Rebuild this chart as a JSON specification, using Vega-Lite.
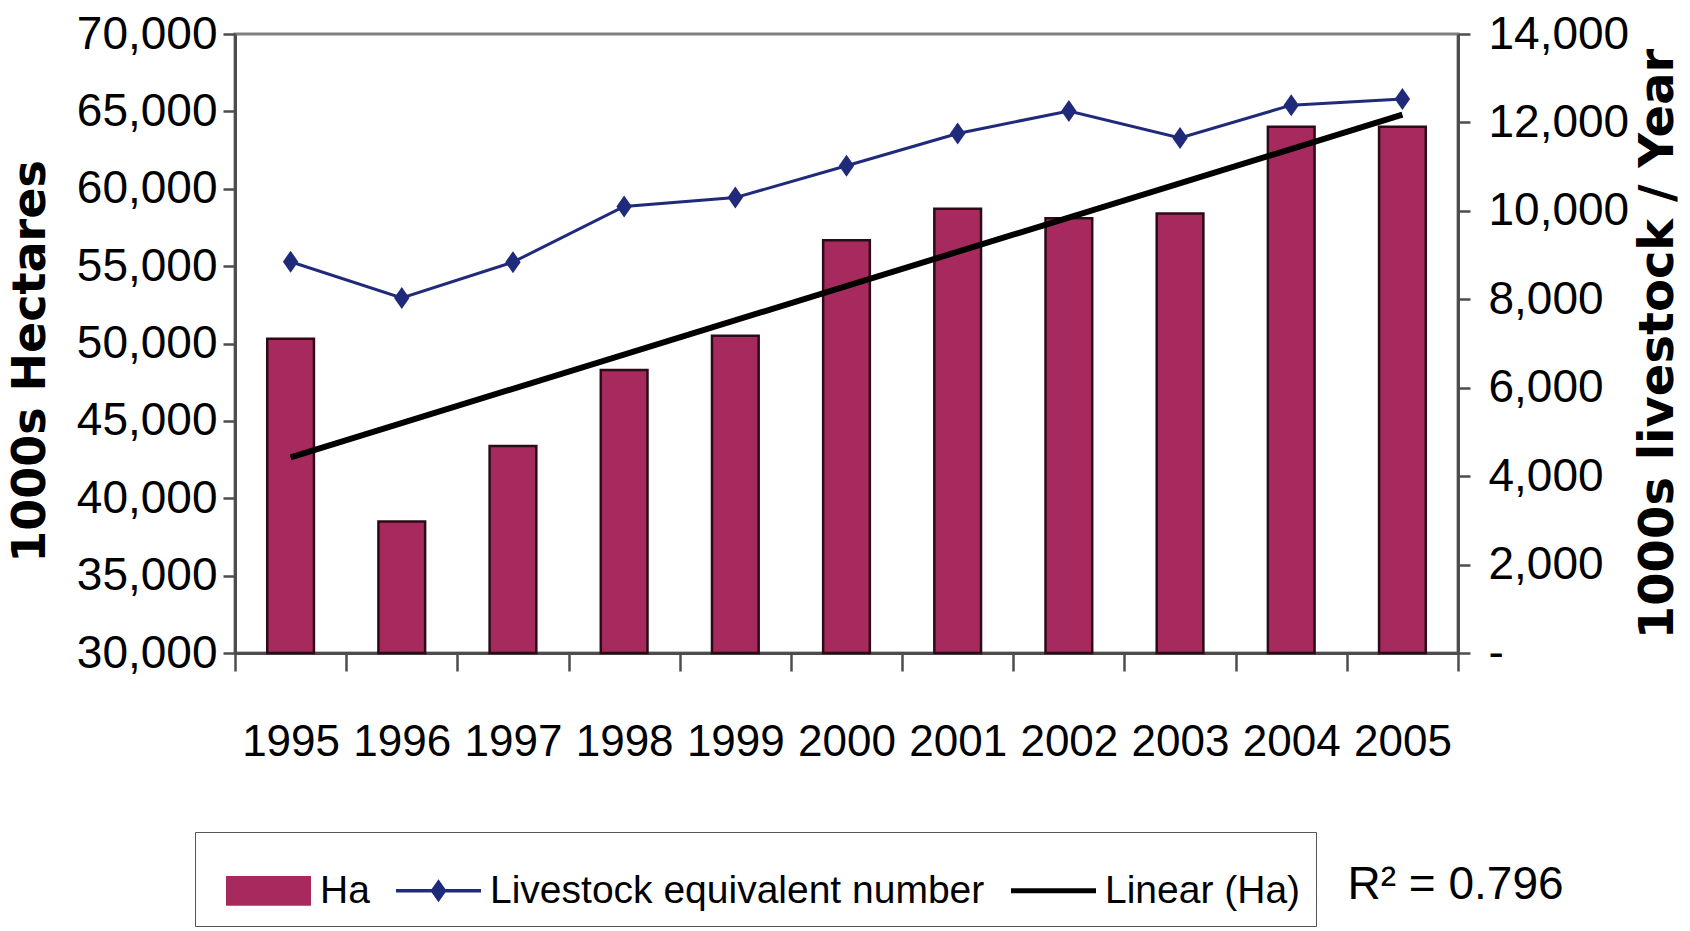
{
  "$schema": "https://vega.github.io/schema/vega-lite/v6.json",
  "width": 1223,
  "height": 619,
  "autosize": {"type": "none"},
  "padding": {"left": 235, "top": 34, "right": 232, "bottom": 278},
  "background": "white",
  "config": {
    "view": {"stroke": "#808080", "strokeWidth": 3},
    "axis": {"labelColor": "#000000", "titleColor": "#000000", "grid": false, "domainColor": "#4d4d4d", "domainWidth": 3, "tickColor": "#4d4d4d", "tickWidth": 2.5}
  },
  "data": {
    "values": [
      {"year": 1995, "Ha": 50300, "livestock": 8850},
      {"year": 1996, "Ha": 38500, "livestock": 8030},
      {"year": 1997, "Ha": 43370, "livestock": 8840},
      {"year": 1998, "Ha": 48290, "livestock": 10100},
      {"year": 1999, "Ha": 50500, "livestock": 10300},
      {"year": 2000, "Ha": 56680, "livestock": 11020},
      {"year": 2001, "Ha": 58700, "livestock": 11750},
      {"year": 2002, "Ha": 58100, "livestock": 12260},
      {"year": 2003, "Ha": 58400, "livestock": 11650},
      {"year": 2004, "Ha": 64010, "livestock": 12390},
      {"year": 2005, "Ha": 64010, "livestock": 12530}
    ]
  },
  "layer": [
    {
      "layer": [
        {
          "mark": {"type": "bar", "fill": "#a62a5e", "stroke": "#2b0b16", "strokeWidth": 2.5, "width": {"band": 0.42}},
          "encoding": {
            "x": {
              "field": "year", "type": "ordinal",
              "scale": {"paddingInner": 0, "paddingOuter": 0},
              "axis": {
                "labelAngle": 0, "labelFont": "Liberation Sans", "labelFontSize": 44, "labelPadding": 49,
                "tickBand": "extent", "tickSize": 18,
                "title": "R² = 0.796", "titleFont": "Liberation Sans", "titleFontSize": 46, "titleFontWeight": "normal",
                "titleX": 1112, "titleY": 231, "titleAlign": "left", "titleBaseline": "middle", "titleAnchor": null
              }
            },
            "y": {
              "field": "Ha", "type": "quantitative",
              "scale": {"domain": [30000, 70000], "nice": false, "zero": false},
              "axis": {
                "title": "1000s Hectares", "titleFont": "DejaVu Sans", "titleFontWeight": "bold", "titleFontSize": 46, "titlePadding": 22,
                "titleY": 327,
                "values": [30000, 35000, 40000, 45000, 50000, 55000, 60000, 65000, 70000],
                "labelExpr": "format(datum.value, ',')",
                "labelFont": "Liberation Sans", "labelFontSize": 46, "labelPadding": 6, "tickSize": 12
              }
            },
            "y2": {"datum": 30000}
          }
        },
        {
          "transform": [{"regression": "Ha", "on": "year"}],
          "mark": {"type": "line", "stroke": "#000000", "strokeWidth": 6},
          "encoding": {
            "x": {
              "field": "year", "type": "ordinal",
              "scale": {"paddingInner": 0, "paddingOuter": 0},
              "axis": {
                "labelAngle": 0, "labelFont": "Liberation Sans", "labelFontSize": 44, "labelPadding": 49,
                "tickBand": "extent", "tickSize": 18,
                "title": "R² = 0.796", "titleFont": "Liberation Sans", "titleFontSize": 46, "titleFontWeight": "normal",
                "titleX": 1112, "titleY": 231, "titleAlign": "left", "titleBaseline": "middle", "titleAnchor": null
              }
            },
            "y": {
              "field": "Ha", "type": "quantitative",
              "scale": {"domain": [30000, 70000], "nice": false, "zero": false},
              "axis": {
                "title": "1000s Hectares", "titleFont": "DejaVu Sans", "titleFontWeight": "bold", "titleFontSize": 46, "titlePadding": 22,
                "titleY": 327,
                "values": [30000, 35000, 40000, 45000, 50000, 55000, 60000, 65000, 70000],
                "labelExpr": "format(datum.value, ',')",
                "labelFont": "Liberation Sans", "labelFontSize": 46, "labelPadding": 6, "tickSize": 12
              }
            }
          }
        }
      ]
    },
    {
      "mark": {
        "type": "line", "stroke": "#1f2a7a", "strokeWidth": 3,
        "point": {"shape": "M0,-1L0.7,0L0,1L-0.7,0Z", "filled": true, "fill": "#1f2a7a", "size": 484, "opacity": 1}
      },
      "encoding": {
        "x": {
          "field": "year", "type": "ordinal",
          "scale": {"paddingInner": 0, "paddingOuter": 0},
          "axis": {
            "labelAngle": 0, "labelFont": "Liberation Sans", "labelFontSize": 44, "labelPadding": 49,
            "tickBand": "extent", "tickSize": 18,
            "title": "R² = 0.796", "titleFont": "Liberation Sans", "titleFontSize": 46, "titleFontWeight": "normal",
            "titleX": 1112, "titleY": 231, "titleAlign": "left", "titleBaseline": "middle", "titleAnchor": null
          }
        },
        "y": {
          "field": "livestock", "type": "quantitative",
          "scale": {"domain": [0, 14000], "nice": false},
          "axis": {
            "orient": "right",
            "title": "1000s livestock / Year", "titleFont": "DejaVu Sans", "titleFontWeight": "bold", "titleFontSize": 48,
            "titlePadding": 6, "titleAngle": 270, "titleBaseline": "top",
            "values": [0, 2000, 4000, 6000, 8000, 10000, 12000, 14000],
            "labelExpr": "datum.value === 0 ? '-' : format(datum.value, ',')",
            "labelFont": "Liberation Sans", "labelFontSize": 46, "labelPadding": 18, "tickSize": 12
          }
        }
      }
    },
    {
      "data": {"values": [{"series": "Ha"}, {"series": "Livestock equivalent number"}, {"series": "Linear (Ha)"}]},
      "transform": [{"filter": "false"}],
      "mark": {"type": "point", "filled": true, "opacity": 1},
      "encoding": {
        "color": {
          "field": "series", "type": "nominal",
          "scale": {"domain": ["Ha", "Livestock equivalent number", "Linear (Ha)"], "range": ["#a62a5e", "#1f2a7a", "#000000"]},
          "legend": {
            "orient": "none", "legendX": -40, "legendY": 798, "direction": "horizontal",
            "title": null, "labelFont": "Liberation Sans", "labelFontSize": 39, "labelColor": "#000000", "labelLimit": 0,
            "symbolSize": 7225, "symbolOpacity": 1, "symbolOffset": 15, "labelOffset": 8, "columnPadding": 10, "padding": 15,
            "strokeColor": "#555555"
          }
        },
        "shape": {
          "field": "series", "type": "nominal",
          "scale": {
            "domain": ["Ha", "Livestock equivalent number", "Linear (Ha)"],
            "range": ["M-1,-0.35H1V0.35H-1Z", "M-1,-0.04H1V0.04H-1ZM0,-0.27L0.19,0L0,0.27L-0.19,0Z", "M-1,-0.06H1V0.06H-1Z"]
          }
        }
      }
    }
  ],
  "resolve": {"scale": {"y": "independent"}}
}
